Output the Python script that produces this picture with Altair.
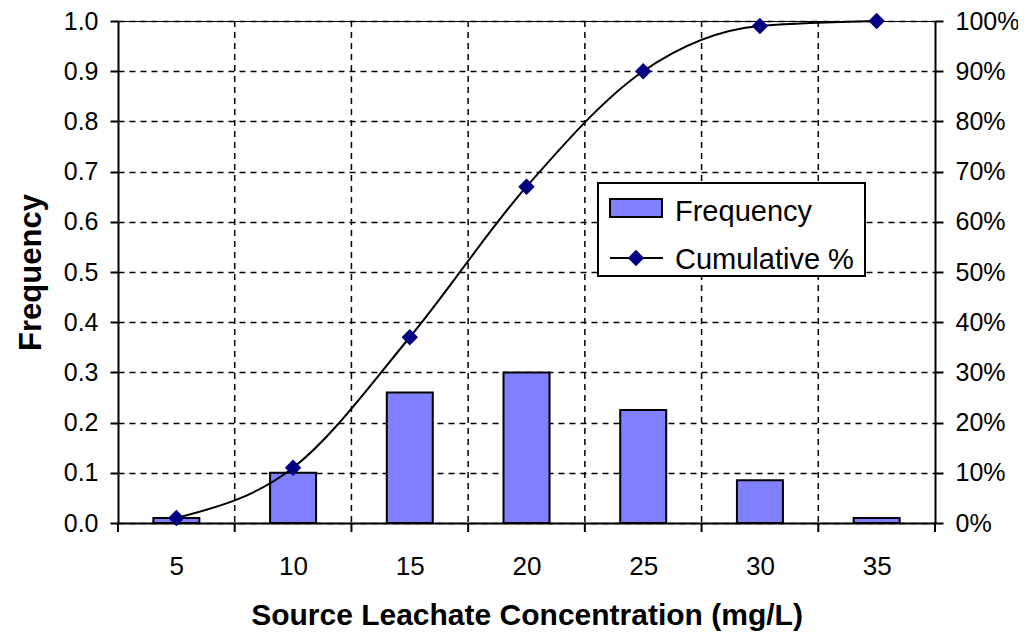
import altair as alt
import pandas as pd

# ---- data ----
concentration = [5, 10, 15, 20, 25, 30, 35]
frequency = [0.01, 0.10, 0.26, 0.30, 0.225, 0.085, 0.01]
cumulative = [0.01, 0.11, 0.37, 0.67, 0.90, 0.99, 1.00]
bin_edges = [2.5, 7.5, 12.5, 17.5, 22.5, 27.5, 32.5, 37.5]
inner_edges = [7.5, 12.5, 17.5, 22.5, 27.5, 32.5]
y_ticks = [round(i * 0.1, 1) for i in range(11)]

df = pd.DataFrame({"x": concentration, "freq": frequency, "cum": cumulative})
edges_df = pd.DataFrame({"x": bin_edges})
inner_df = pd.DataFrame({"x": inner_edges})
one = pd.DataFrame({"k": [0]})

FONT = "Liberation Sans"
W, H = 817, 502
LBL = 26

xscale = alt.Scale(domain=[2.5, 37.5], nice=False, zero=False, padding=0)
xaxis = alt.Axis(values=concentration, tickSize=0, labelPadding=30, grid=False,
                 title="Source Leachate Concentration (mg/L)", titlePadding=21,
                 domainColor="black", domainWidth=2, labelFontSize=LBL,
                 titleFontSize=30, titleFontWeight="bold", labelColor="black",
                 titleColor="black", labelFont=FONT, titleFont=FONT)
X = alt.X("x:Q", scale=xscale, axis=xaxis)

yleft = alt.Y("freq:Q", scale=alt.Scale(domain=[0, 1], nice=False),
              axis=alt.Axis(values=y_ticks, format=".1f", title="Frequency",
                            grid=True, gridDash=[6, 5], gridColor="black",
                            gridWidth=1.3, gridOpacity=1, tickSize=8,
                            tickColor="black", tickWidth=2, domainColor="black",
                            domainWidth=2, labelPadding=12, labelFontSize=25,
                            titleFontSize=31, titleFontWeight="bold",
                            titlePadding=16, labelColor="black",
                            titleColor="black", labelFont=FONT,
                            titleFont=FONT))

yright = alt.Y("cum:Q", scale=alt.Scale(domain=[0, 1], nice=False),
               axis=alt.Axis(values=y_ticks, format=".0%", title=None,
                             orient="right", grid=False, tickSize=8,
                             tickColor="black", tickWidth=2,
                             domainColor="black", domainWidth=2,
                             labelPadding=12, labelFontSize=25,
                             labelColor="black", labelFont=FONT))

vgrid = alt.Chart(inner_df).mark_rule(color="black", strokeWidth=1.5,
                                      strokeDash=[6, 5]).encode(x=X)
xticks = alt.Chart(edges_df).mark_rule(color="black", strokeWidth=2).encode(
    x=X, y=alt.value(H), y2=alt.value(H + 9))
bars = alt.Chart(df).mark_bar(size=46, color="#8080FF", stroke="black",
                              strokeWidth=2).encode(x=X, y=yleft)

left = alt.layer(vgrid, xticks, bars)

line = alt.Chart(df).mark_line(color="black", strokeWidth=2,
                               interpolate="monotone").encode(x=X, y=yright)
pts = alt.Chart(df).mark_point(shape="diamond", filled=True, color="#000080",
                               size=270, opacity=1).encode(x=X, y=yright)
right = alt.layer(line, pts)

# ---- in-plot legend ----
box = alt.Chart(one).mark_rect(fill="white", stroke="black", strokeWidth=2).encode(
    x=alt.value(480), x2=alt.value(747), y=alt.value(162), y2=alt.value(255))
swatch = alt.Chart(one).mark_rect(fill="#8080FF", stroke="black", strokeWidth=2).encode(
    x=alt.value(492), x2=alt.value(544), y=alt.value(178), y2=alt.value(196))
t1 = alt.Chart(one).mark_text(text="Frequency", align="left", baseline="middle",
                              fontSize=29, font=FONT, color="black").encode(
    x=alt.value(557), y=alt.value(191))
lline = alt.Chart(one).mark_rule(color="black", strokeWidth=2).encode(
    x=alt.value(492), x2=alt.value(545), y=alt.value(237))
ldia = alt.Chart(one).mark_point(shape="diamond", filled=True, color="#000080",
                                 size=270, opacity=1).encode(
    x=alt.value(518), y=alt.value(237))
t2 = alt.Chart(one).mark_text(text="Cumulative %", align="left", baseline="middle",
                              fontSize=29, font=FONT, color="black").encode(
    x=alt.value(557), y=alt.value(239))
legend = alt.layer(box, swatch, t1, lline, ldia, t2)

chart = alt.layer(left, right, legend).resolve_scale(y="independent").properties(
    width=W, height=H,
    autosize=alt.AutoSizeParams(type="none"),
    padding={"left": 110, "top": 13, "right": 83, "bottom": 110},
    background="white",
).configure_view(stroke="black", strokeWidth=1)

chart.save("out.html", embed_options={"renderer": "svg", "actions": False})
